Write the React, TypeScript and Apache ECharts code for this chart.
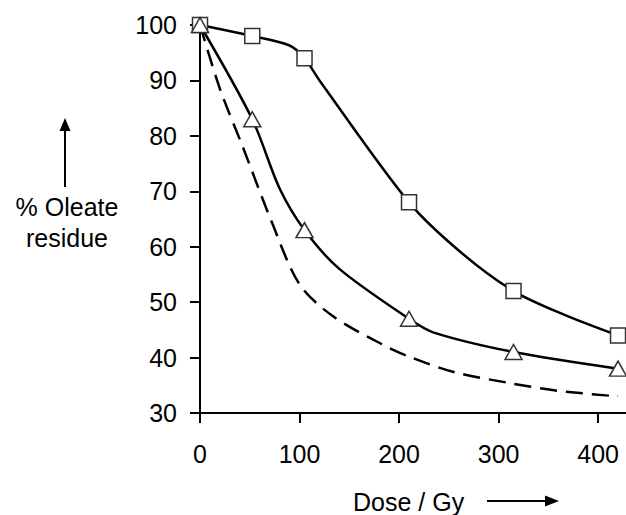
import React, { useEffect, useRef } from "react";
import * as echarts from "echarts";

// Measured doses (Gy) and % oleate residue at the marked points
const doses = [0, 52.5, 105, 210, 315, 420];
const squareValues = [100, 98, 94, 68, 52, 44];
const triangleValues = [100, 83, 63, 47, 41, 38];

// Points
const squareCurveX = [0, 52.5, 90, 105, 122, 210, 262, 315, 365, 420];
const squareCurveY = [100, 98, 96.3, 94, 89.5, 68, 59, 52, 47.8, 44];
const triangleCurveX = [0, 52.5, 80, 105, 140, 210, 235, 315, 420];
const triangleCurveY = [100, 83, 70.5, 63, 56, 47, 44.5, 41, 38];
const dashedCurveX = [0, 20, 43, 72, 100, 134, 184, 211, 255, 311, 360, 420];
const dashedCurveY = [100, 88.5, 78, 64.5, 53.2, 47.4, 42.3, 40.1, 37.4, 35.4, 34.0, 33];

const xTicks = [0, 100, 200, 300, 400];
const yMin = 30;
const yMax = 100;
const yStep = 10;
const xMax = 428;

const yNameLines = ["% Oleate", "residue"];
const xName = "Dose / Gy";

const FONT = "'Liberation Sans', Arial, sans-serif";
const FS = 25;

const pairs = (xs: number[], ys: number[]) => xs.map((x, i) => [x, ys[i]]);

export default function App() {
  const ref = useRef<HTMLDivElement>(null);

  useEffect(() => {
    if (!ref.current) return;
    const chart = echarts.init(ref.current, null, { renderer: "svg" });
    const curveStyle = { color: "#000", width: 2.5 };
    chart.setOption({
      animation: false,
      backgroundColor: "#fff",
      grid: { left: 200, top: 25, right: 0, bottom: 102, containLabel: false },
      xAxis: {
        type: "value",
        min: 0,
        max: xMax,
        splitLine: { show: false },
        axisLine: { show: true, lineStyle: { color: "#000", width: 2 } },
        axisTick: { show: true, length: 10, lineStyle: { color: "#000", width: 2 }, customValues: xTicks },
        axisLabel: {
          color: "#000",
          fontSize: FS,
          fontFamily: FONT,
          margin: 28,
          customValues: xTicks,
        },
      },
      yAxis: {
        type: "value",
        min: yMin,
        max: yMax,
        interval: yStep,
        splitLine: { show: false },
        axisLine: { show: true, lineStyle: { color: "#000", width: 2 } },
        axisTick: { show: true, length: 10, lineStyle: { color: "#000", width: 2 } },
        axisLabel: { color: "#000", fontSize: FS, fontFamily: FONT, margin: 23 },
      },
      series: [
        {
          type: "line",
          data: pairs(dashedCurveX, dashedCurveY),
          symbol: "none",
          smooth: 0.3,
          lineStyle: { ...curveStyle, type: [17, 9] },
          z: 2,
        },
        {
          type: "line",
          data: pairs(triangleCurveX, triangleCurveY),
          symbol: "none",
          smooth: 0.3,
          lineStyle: curveStyle,
          z: 2,
        },
        {
          type: "line",
          data: pairs(squareCurveX, squareCurveY),
          symbol: "none",
          smooth: 0.3,
          lineStyle: curveStyle,
          z: 2,
        },
        {
          type: "scatter",
          data: pairs(doses, squareValues),
          symbol: "rect",
          symbolSize: 15,
          itemStyle: { color: "#fff", borderColor: "#333", borderWidth: 1.5, opacity: 1 },
          z: 3,
        },
        {
          type: "scatter",
          data: pairs(doses, triangleValues),
          symbol: "triangle",
          symbolSize: [17, 15],
          itemStyle: { color: "#fff", borderColor: "#333", borderWidth: 1.5, opacity: 1 },
          z: 4,
        },
      ],
      graphic: [
        {
          type: "text",
          x: 67,
          y: 207,
          style: { text: yNameLines[0], fontSize: FS, fontFamily: FONT, fill: "#000", align: "center", verticalAlign: "middle" },
        },
        {
          type: "text",
          x: 67,
          y: 238,
          style: { text: yNameLines[1], fontSize: FS, fontFamily: FONT, fill: "#000", align: "center", verticalAlign: "middle" },
        },
        {
          type: "line",
          shape: { x1: 65, y1: 187, x2: 65, y2: 128 },
          style: { stroke: "#000", lineWidth: 2 },
        },
        {
          type: "polygon",
          shape: { points: [[65, 118], [59.5, 131], [70.5, 131]] },
          style: { fill: "#000" },
        },
        {
          type: "text",
          x: 353,
          y: 502,
          style: { text: xName, fontSize: FS, fontFamily: FONT, fill: "#000", align: "left", verticalAlign: "middle" },
        },
        {
          type: "line",
          shape: { x1: 487, y1: 501, x2: 548, y2: 501 },
          style: { stroke: "#000", lineWidth: 2 },
        },
        {
          type: "polygon",
          shape: { points: [[559, 501], [545, 495.5], [545, 506.5]] },
          style: { fill: "#000" },
        },
      ],
    });
    return () => chart.dispose();
  }, []);

  return (
    <div
      ref={ref}
      style={{ position: "fixed", left: 0, top: 0, width: 626, height: 515, background: "#fff" }}
    />
  );
}
